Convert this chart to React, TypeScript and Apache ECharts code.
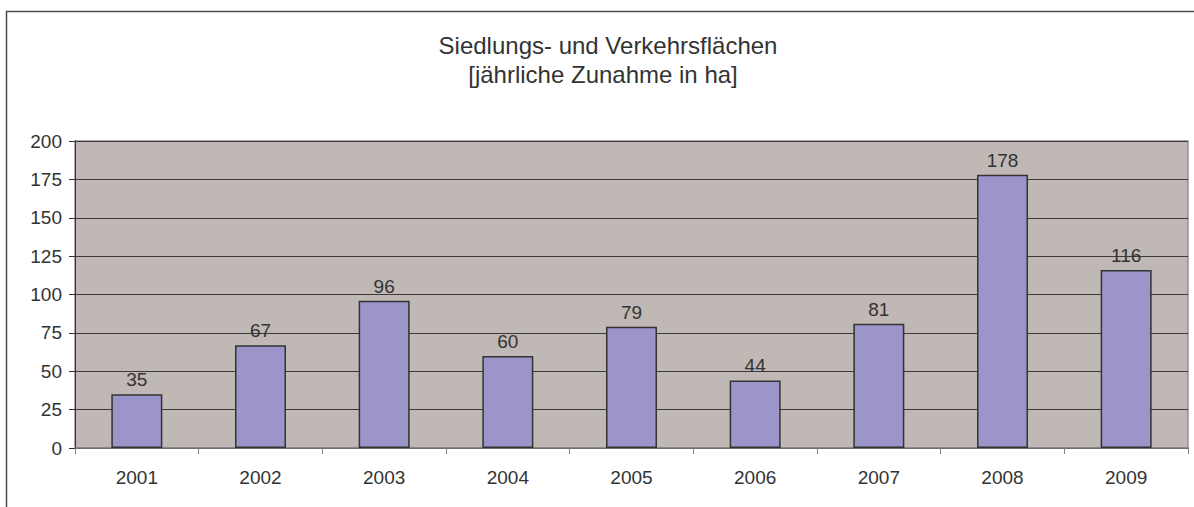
import React, { useEffect, useRef } from "react";
import * as echarts from "echarts";

const categories = ["2001", "2002", "2003", "2004", "2005", "2006", "2007", "2008", "2009"];
const values = [35, 67, 96, 60, 79, 44, 81, 178, 116];
const titleLines = ["Siedlungs- und Verkehrsflächen", "[jährliche Zunahme in ha]"];

export default function App() {
  const ref = useRef<HTMLDivElement>(null);
  useEffect(() => {
    document.body.style.margin = "0";
    const chart = echarts.init(ref.current!, null, { renderer: "svg" });
    const font = "'Liberation Sans', Arial, sans-serif";
    chart.setOption({
      animation: false,
      backgroundColor: "#ffffff",
      textStyle: { fontFamily: font },
      graphic: [
        {
          type: "rect",
          shape: { x: 6.5, y: 11.5, width: 1300, height: 600 },
          style: { fill: "none", stroke: "#4d4d4d", lineWidth: 1.5 },
          silent: true,
          z: -1,
        },
        {
          type: "text",
          x: 608,
          y: 45,
          style: {
            text: titleLines[0],
            fontSize: 24,
            fontFamily: font,
            fill: "#333333",
            textAlign: "center",
            textVerticalAlign: "middle",
          },
        },
        {
          type: "text",
          x: 603,
          y: 74,
          style: {
            text: titleLines[1],
            fontSize: 24,
            fontFamily: font,
            fill: "#333333",
            textAlign: "center",
            textVerticalAlign: "middle",
          },
        },
      ],
      grid: {
        left: 75,
        right: 6,
        top: 141,
        bottom: 59,
        show: true,
        backgroundColor: "#c0b8b4",
        borderColor: "#9a908d",
        borderWidth: 1.5,
      },
      xAxis: {
        type: "category",
        data: categories,
        axisLine: { show: true, lineStyle: { color: "#808080", width: 1.5 } },
        axisTick: { show: true, length: 6, lineStyle: { color: "#808080" } },
        axisLabel: { fontSize: 19, color: "#333333", margin: 20, fontFamily: font },
        splitLine: { show: false },
      },
      yAxis: {
        type: "value",
        min: 0,
        max: 200,
        interval: 25,
        axisLine: { show: true, lineStyle: { color: "#333333", width: 1 } },
        axisTick: { show: true, length: 6, lineStyle: { color: "#333333" } },
        axisLabel: { fontSize: 19, color: "#333333", margin: 13, fontFamily: font },
        splitLine: { show: true, lineStyle: { color: "#3a3a3a", width: 1 } },
      },
      series: [
        {
          type: "bar",
          data: values,
          barWidth: 51,
          itemStyle: { color: "#9b95c9", borderColor: "#333333", borderWidth: 1.5 },
          label: {
            show: true,
            position: "top",
            distance: 5,
            fontSize: 19,
            color: "#333333",
            fontFamily: font,
          },
        },
      ],
    });
    return () => chart.dispose();
  }, []);
  return <div ref={ref} style={{ width: 1194, height: 507 }} />;
}
